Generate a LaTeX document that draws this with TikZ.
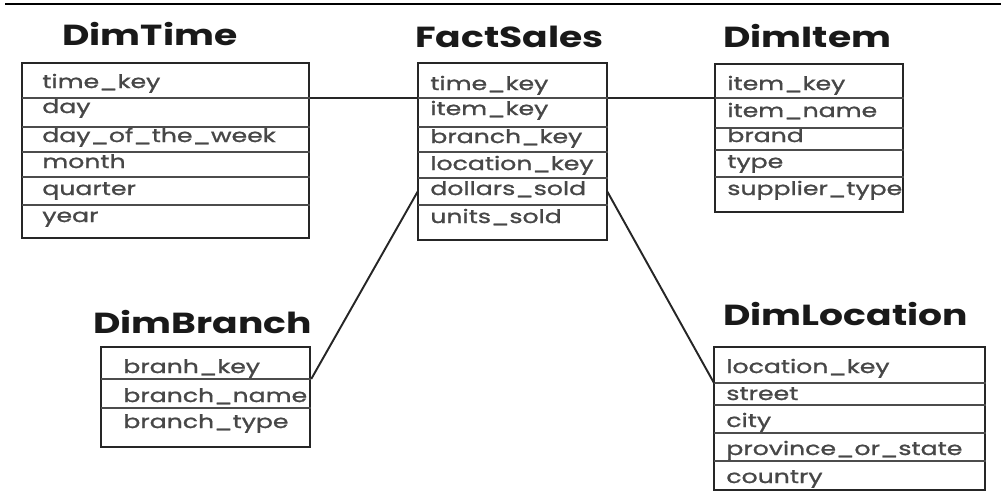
\documentclass[tikz,border=0pt]{standalone}
\usepackage{fontspec}
\setmainfont{Poppins}
\newfontfamily\rowfont{Poppins}[FakeStretch=1.35,FakeBold=1.2]
\newfontfamily\headfont{Poppins}[FakeStretch=1.3]
\usepackage{tikz}
\usetikzlibrary{fit}

\tikzset{
  tbl/.style={draw=black!85, line width=1.4pt, inner sep=0pt},
  ttl/.style={font=\headfont\fontsize{16.5}{18}\selectfont\bfseries, text=black!90, anchor=base west, inner sep=0pt},
  fld/.style={font=\rowfont\fontsize{10.6}{12}\selectfont, text=black!72, anchor=base west, inner sep=0pt},
  sep/.style={draw=black!70, line width=0.8pt},
  link/.style={draw=black!85, line width=1.1pt},
}

\begin{document}
\begin{tikzpicture}[x=0.02cm,y=-0.02cm]
  \useasboundingbox (0,0) rectangle (1001,495);
  \draw[line width=1.6pt] (5,4) -- (1001,4);

  % DimTime
  \node[ttl] (timettl) at (62,45) {DimTime};
  \node[tbl, fit={(22,63) (309,238)}] (time) {};
  \foreach \y/\t [count=\i] in {88/time\_key, 113/day, 142/day\_of\_the\_week, 168/month, 195/quarter, 222/year}
    \node[fld] (time\i) at (42,\y) {\t};
  \foreach \y [count=\i] in {98,127,152,177,205} {
    \coordinate (timed\i) at (22,\y);
    \draw[sep] (timed\i) -- (timed\i -| time.east);
  }

  % FactSales
  \node[ttl] (factttl) at (415,47) {FactSales};
  \node[tbl, fit={(418,63) (607,240)}] (fact) {};
  \foreach \y/\t [count=\i] in {90/time\_key, 115/item\_key, 143/branch\_key, 170/location\_key, 195/dollars\_sold, 223/units\_sold}
    \node[fld] (fact\i) at (430,\y) {\t};
  \foreach \y [count=\i] in {98,127,152,178,205} {
    \coordinate (factd\i) at (418,\y);
    \draw[sep] (factd\i) -- (factd\i -| fact.east);
  }
  \coordinate (factin) at (418,191);
  \coordinate (factout) at (607,191);

  % DimItem
  \node[ttl] (itemttl) at (723,47) {DimItem};
  \node[tbl, fit={(715,64) (903,212)}] (item) {};
  \foreach \y/\t [count=\i] in {90/item\_key, 117/item\_name, 142/brand, 168/type, 195/supplier\_type}
    \node[fld] (item\i) at (727,\y) {\t};
  \foreach \y [count=\i] in {98,128,150,177} {
    \coordinate (itemd\i) at (715,\y);
    \draw[sep] (itemd\i) -- (itemd\i -| item.east);
  }

  % DimBranch
  \node[ttl] (branchttl) at (93,333) {DimBranch};
  \node[tbl, fit={(101,347) (310,447)}] (branch) {};
  \foreach \y/\t [count=\i] in {373/branh\_key, 402/branch\_name, 428/branch\_type}
    \node[fld] (branch\i) at (123,\y) {\t};
  \foreach \y [count=\i] in {379,408} {
    \coordinate (branchd\i) at (101,\y);
    \draw[sep] (branchd\i) -- (branchd\i -| branch.east);
  }

  % DimLocation
  \node[ttl] (locttl) at (723,325) {DimLocation};
  \node[tbl, fit={(714,347) (985,490)}] (loc) {};
  \foreach \y/\t [count=\i] in {373/location\_key, 400/street, 427/city, 455/province\_or\_state, 483/country}
    \node[fld] (loc\i) at (726,\y) {\t};
  \foreach \y [count=\i] in {383,405,433,461} {
    \coordinate (locd\i) at (714,\y);
    \draw[sep] (locd\i) -- (locd\i -| loc.east);
  }

  % links
  \draw[link] (timed1 -| time.east) -- (factd1);
  \draw[link] (factd1 -| fact.east) -- (itemd1);
  \draw[link] (branchd1 -| branch.east) -- (factin);
  \draw[link] (factout) -- (locd1);
\end{tikzpicture}
\end{document}
